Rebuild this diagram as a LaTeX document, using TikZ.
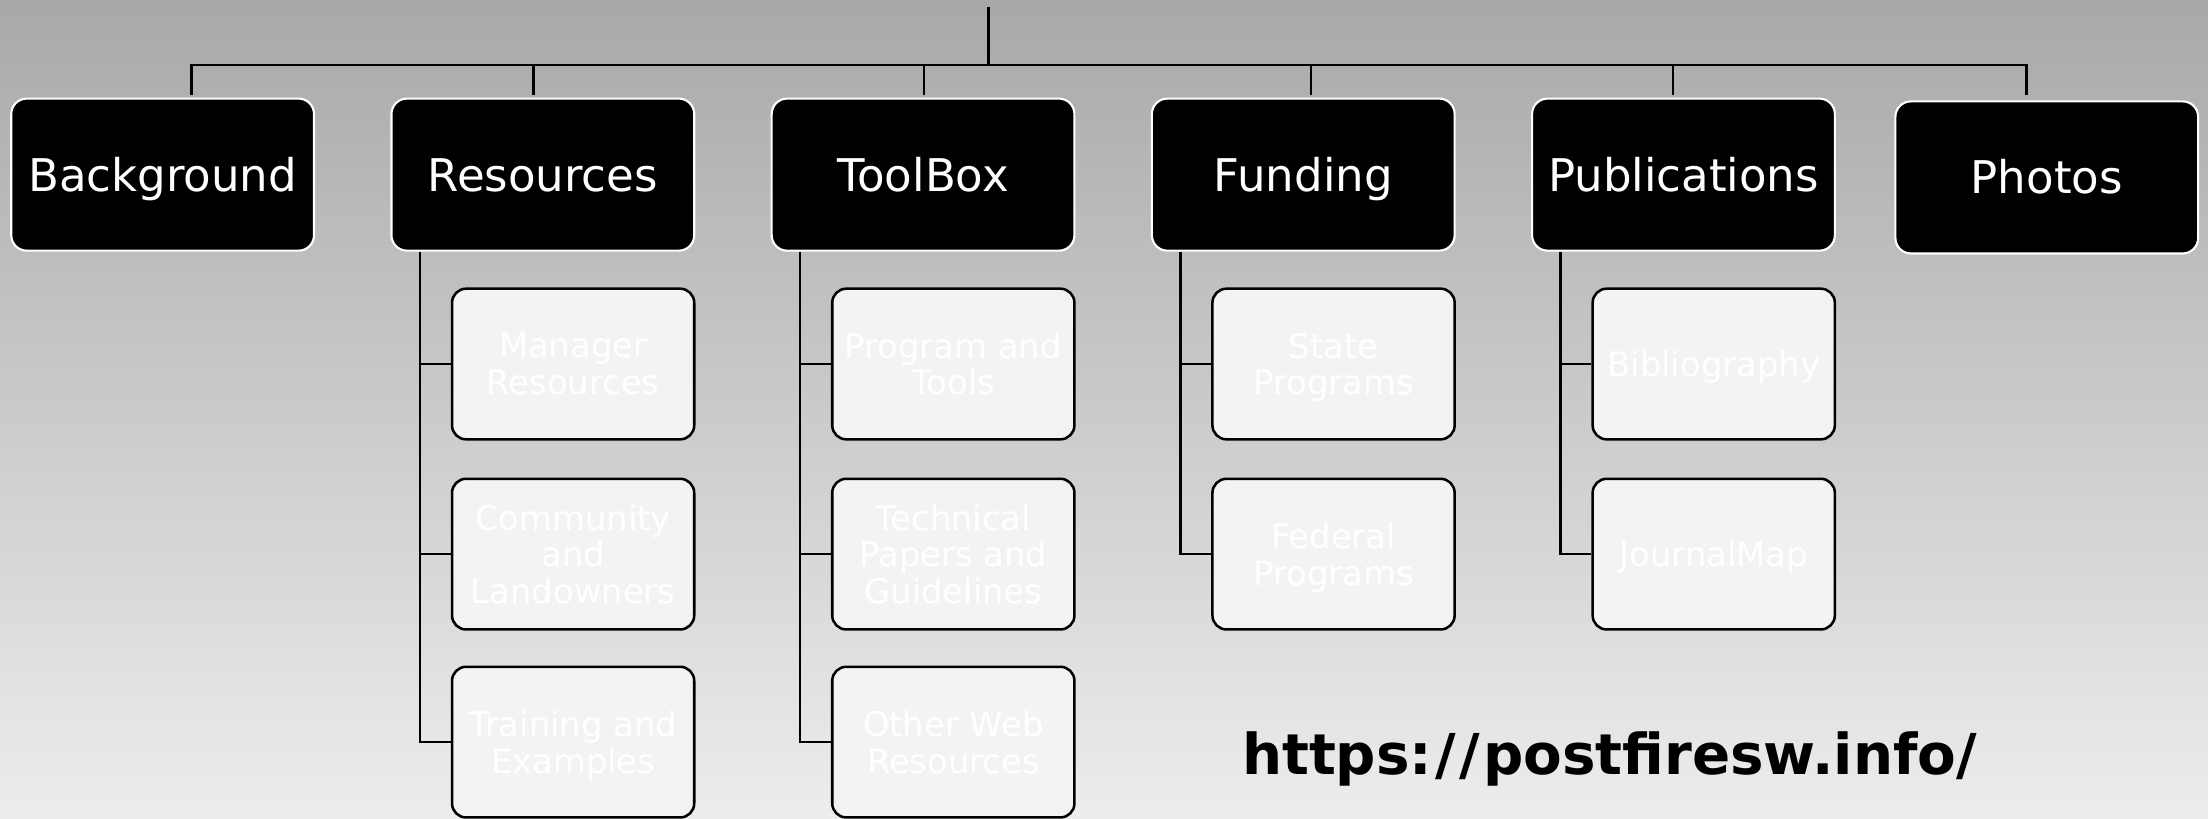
\documentclass[tikz,border=0pt]{standalone}
\usepackage{fontspec}
\setmainfont{DejaVu Sans}
\definecolor{bgtop}{HTML}{A8A8A8}
\definecolor{bgbot}{HTML}{EDEDED}
\definecolor{childfill}{HTML}{F3F3F3}
\newcommand\nodesc[1]{\raisebox{0pt}[\height][0pt]{#1}}
\tikzset{
  topbox/.style={draw=white, line width=1.5pt, fill=black, rounded corners=11pt,
    minimum width=215pt, minimum height=108pt, text=white,
    font=\fontsize{32}{36}\selectfont, inner sep=0pt,
    text height=23.4pt, text depth=0pt},
  childbox/.style={draw=black, line width=1.8pt, fill=childfill, rounded corners=10pt,
    minimum width=172pt, minimum height=107pt, text=white,
    font=\fontsize{24}{26}\selectfont, align=center, inner sep=0pt},
  conn/.style={draw=black, line width=1.8pt},
}
\begin{document}
\begin{tikzpicture}[x=1pt,y=-1pt]
\fill[top color=bgtop, bottom color=bgbot] (0,0) rectangle (1568,581);
\useasboundingbox (0,0) rectangle (1568,581);

% top level
\node[topbox] (bg)  at (115.5,124) {Background};
\node[topbox] (res) at (385.5,124) {Resources};
\node[topbox] (tb)  at (655.5,124) {ToolBox};
\node[topbox] (fund) at (925.5,124) {Funding};
\node[topbox] (pub) at (1195.5,124) {Publications};
\node[topbox] (pho) at (1453.5,126) {Photos};

% children
\node[childbox] (r1) at (407,258.5) {Manager\\Resources};
\node[childbox] (r2) at (407,393.5) {Community\\and\\Landowners};
\node[childbox] (r3) at (407,527) {Training and\\\nodesc{Examples}};
\node[childbox] (t1) at (677,258.5) {Program and\\Tools};
\node[childbox] (t2) at (677,393.5) {Technical\\Papers and\\Guidelines};
\node[childbox] (t3) at (677,527) {Other Web\\Resources};
\node[childbox] (f1) at (947,258.5) {State\\\nodesc{Programs}};
\node[childbox] (f2) at (947,393.5) {Federal\\\nodesc{Programs}};
\node[childbox] (p1) at (1217,258.5) {\nodesc{Bibliography}};
\node[childbox] (p2) at (1217,393.5) {\nodesc{JournalMap}};

% root connectors
\coordinate (root) at (702,5);
\coordinate (hub) at (702,46);
\draw[conn] (root) -- (hub);
\draw[conn] (hub) -| ([xshift=20.5pt,yshift=2pt]bg.north);
\draw[conn] (hub) -| ([xshift=-6.5pt,yshift=2pt]res.north);
\draw[conn] (hub) -| ([xshift=0.5pt,yshift=2pt]tb.north);
\draw[conn] (hub) -| ([xshift=5.5pt,yshift=2pt]fund.north);
\draw[conn] (hub) -| ([xshift=-7.5pt,yshift=2pt]pub.north);
\draw[conn] (hub) -| ([xshift=-14.5pt,yshift=4pt]pho.north);

% child connectors
\foreach \c in {r1,r2,r3} \draw[conn] ([xshift=21pt]res.south west) |- (\c.west);
\foreach \c in {t1,t2,t3} \draw[conn] ([xshift=21pt]tb.south west) |- (\c.west);
\foreach \c in {f1,f2} \draw[conn] ([xshift=21pt]fund.south west) |- (\c.west);
\foreach \c in {p1,p2} \draw[conn] ([xshift=21pt]pub.south west) |- (\c.west);

% url
\node[font=\bfseries\fontsize{40}{48}\selectfont, inner sep=0pt, anchor=base] (url) at (1143,550) {https:\kern2pt/\kern3pt/\kern2pt postfiresw.info/};
\end{tikzpicture}
\end{document}
